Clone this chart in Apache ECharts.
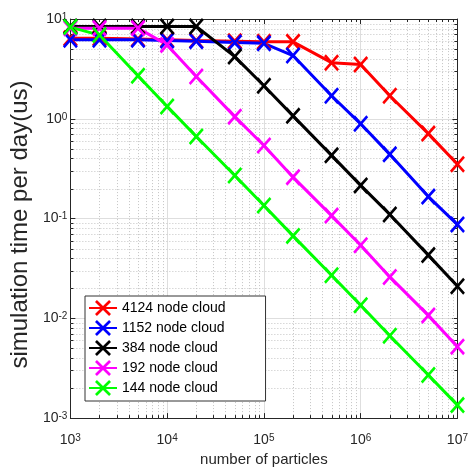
<!DOCTYPE html>
<html>
<head>
<meta charset="utf-8">
<script src="https://cdn.jsdelivr.net/npm/echarts@6/dist/echarts.min.js"></script>
<style>
  html, body { margin: 0; padding: 0; background: #fff; }
  #main { width: 471px; height: 472px; }
</style>
</head>
<body>
<div id="main"></div>
<script>
// number of particles
const particles = [1e3, 2e3, 5e3, 1e4, 2e4, 5e4, 1e5, 2e5, 5e5, 1e6, 2e6, 5e6, 1e7];

// simulation time per day (us)
const cloud4124 = [6.4, 6.4, 6.3, 6.2, 6.1, 6.0, 5.9, 5.9, 3.65, 3.5, 1.7, 0.71, 0.35];
const cloud1152 = [6.2, 6.2, 6.2, 6.1, 6.0, 5.8, 5.7, 4.3, 1.7, 0.89, 0.44, 0.166, 0.087];
const cloud384 = [8.4, 8.4, 8.4, 8.4, 8.4, 4.2, 2.14, 1.07, 0.43, 0.215, 0.11, 0.043, 0.021];
const cloud192 = [8.1, 8.1, 8.1, 5.5, 2.65, 1.05, 0.54, 0.26, 0.107, 0.054, 0.026, 0.0107, 0.0052];
const cloud144 = [8.3, 6.9, 2.7, 1.33, 0.665, 0.27, 0.135, 0.067, 0.027, 0.0135, 0.0067, 0.0027, 0.00135];

const seriesNames = ['4124 node cloud', '1152 node cloud', '384 node cloud', '192 node cloud', '144 node cloud'];
const seriesValues = [cloud4124, cloud1152, cloud384, cloud192, cloud144];
const seriesColors = ['#ff0000', '#0000ff', '#000000', '#ff00ff', '#00ff00'];

const xRange = [1e3, 1e7];
const yRange = [1e-3, 1e1];

// minor ticks 2..9 x 10^k, the way matlab puts them on a log axis
function minorTicks(lo, hi) {
  const out = [];
  for (let k = Math.round(Math.log10(lo)); k < Math.round(Math.log10(hi)); k++) {
    for (let m = 2; m <= 9; m++) out.push(+(m * Math.pow(10, k)).toPrecision(3));
  }
  return out;
}
const minorX = minorTicks(xRange[0], xRange[1]);
const minorY = minorTicks(yRange[0], yRange[1]);

const FONT = '"Liberation Sans", Arial, sans-serif';
const AX = '#262626';
const crossPath = 'path://M0,12L12,0L50,38L88,0L100,12L62,50L100,88L88,100L50,62L12,100L0,88L38,50Z';

function powLabel(v) {
  const e = Math.round(Math.log10(v));
  return '{b|10}{s|' + e + '}';
}
const rich = {
  b: { fontSize: 14, lineHeight: 14, padding: [4, 0, 0, 0], verticalAlign: 'bottom', color: AX, fontFamily: FONT },
  s: { fontSize: 10, lineHeight: 10, verticalAlign: 'top', color: AX, fontFamily: FONT }
};

const chart = echarts.init(document.getElementById('main'), null, { renderer: 'canvas' });

const lineSeries = seriesNames.map((name, i) => ({
  name: name,
  type: 'line',
  data: particles.map((p, j) => [p, seriesValues[i][j]]),
  symbol: crossPath,
  symbolSize: [15, 17],
  showSymbol: true,
  clip: false,
  color: seriesColors[i],
  lineStyle: { width: 3, color: seriesColors[i] },
  itemStyle: { color: seriesColors[i], borderWidth: 0 },
  z: 3
}));

function snap(v) { return Math.round(v) + 0.5; }

const minorXSeries = {
  type: 'custom',
  silent: true,
  z: 1,
  clip: false,
  data: minorX.map(v => [v, 1]),
  encode: { x: 0, y: 1 },
  renderItem: function (params, api) {
    const x = api.value(0);
    const b = api.coord([x, yRange[0]]);
    const t = api.coord([x, yRange[1]]);
    const px = snap(b[0]);
    return {
      type: 'group',
      children: [
        { type: 'line', shape: { x1: px, y1: b[1], x2: px, y2: t[1] }, style: { stroke: '#c4c4c4', lineWidth: 1, lineDash: [1, 2] } },
        { type: 'line', shape: { x1: px, y1: b[1], x2: px, y2: b[1] - 3 }, style: { stroke: AX, lineWidth: 1 } },
        { type: 'line', shape: { x1: px, y1: t[1], x2: px, y2: t[1] + 3 }, style: { stroke: AX, lineWidth: 1 } }
      ]
    };
  }
};

const minorYSeries = {
  type: 'custom',
  silent: true,
  z: 1,
  clip: false,
  data: minorY.map(v => [1e4, v]),
  encode: { x: 0, y: 1 },
  renderItem: function (params, api) {
    const y = api.value(1);
    const l = api.coord([xRange[0], y]);
    const r = api.coord([xRange[1], y]);
    const py = snap(l[1]);
    return {
      type: 'group',
      children: [
        { type: 'line', shape: { x1: l[0], y1: py, x2: r[0], y2: py }, style: { stroke: '#c4c4c4', lineWidth: 1, lineDash: [1, 2] } },
        { type: 'line', shape: { x1: l[0], y1: py, x2: l[0] + 3, y2: py }, style: { stroke: AX, lineWidth: 1 } },
        { type: 'line', shape: { x1: r[0], y1: py, x2: r[0] - 3, y2: py }, style: { stroke: AX, lineWidth: 1 } }
      ]
    };
  }
};

const baseAxis = {
  type: 'log',
  logBase: 10,
  axisLine: { show: true, onZero: false, lineStyle: { color: AX, width: 1 } },
  axisTick: { show: true, inside: true, length: 5, lineStyle: { color: AX } },
  minorTick: { show: false },
  splitLine: { show: false }
};

const option = {
  animation: false,
  backgroundColor: '#fff',
  textStyle: { fontFamily: FONT },
  grid: { left: 63, right: 10, top: 19, bottom: 52, containLabel: false },
  legend: {
    data: seriesNames,
    orient: 'vertical',
    left: 85,
    top: 296,
    itemWidth: 28,
    itemHeight: 20,
    itemGap: 4,
    padding: [4, 40, 5, 3],
    backgroundColor: '#fff',
    borderColor: '#333',
    borderWidth: 1,
    borderRadius: 0,
    selectedMode: false,
    textStyle: { fontSize: 14, color: '#000', fontFamily: FONT }
  },
  xAxis: [
    Object.assign({}, baseAxis, {
      position: 'bottom',
      min: xRange[0],
      max: xRange[1],
      axisLabel: { formatter: powLabel, rich: rich, margin: 15 },
      splitLine: { show: true, lineStyle: { color: '#dedede', width: 1 } },
      name: 'number of particles',
      nameLocation: 'middle',
      nameGap: 29,
      nameTextStyle: { fontSize: 15, color: AX, fontFamily: FONT }
    }),
    Object.assign({}, baseAxis, {
      position: 'top',
      min: xRange[0],
      max: xRange[1],
      axisLabel: { show: false }
    })
  ],
  yAxis: [
    Object.assign({}, baseAxis, {
      position: 'left',
      min: yRange[0],
      max: yRange[1],
      axisLabel: { formatter: powLabel, rich: rich, margin: 3 },
      splitLine: { show: true, lineStyle: { color: '#dedede', width: 1 } },
      name: 'simulation time per day(us)',
      nameLocation: 'middle',
      nameGap: 29,
      nameTextStyle: { fontSize: 24, color: AX, fontFamily: FONT, padding: [0, 12, 0, 0] }
    }),
    Object.assign({}, baseAxis, {
      position: 'right',
      min: yRange[0],
      max: yRange[1],
      axisLabel: { show: false }
    })
  ],
  series: [minorXSeries, minorYSeries].concat(lineSeries)
};

chart.setOption(option);
</script>
</body>
</html>
